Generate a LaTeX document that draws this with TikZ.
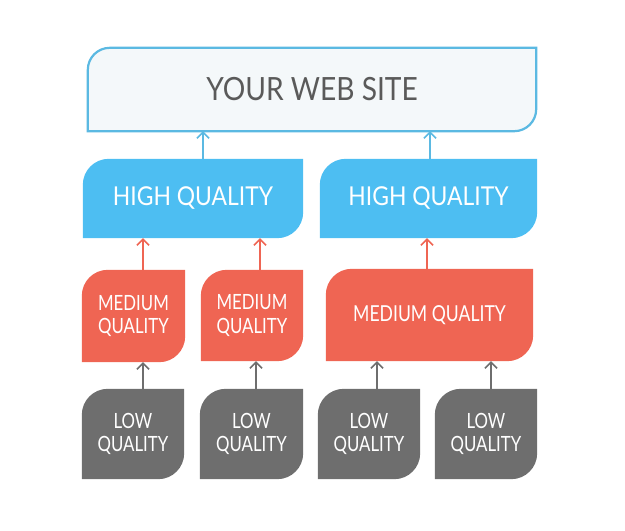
\documentclass[tikz,border=0pt]{standalone}
\usepackage{fontspec}
\setmainfont{Lato}[FakeStretch=0.88]
\newfontfamily\narrowfont{Lato}[FakeStretch=0.8]
\usetikzlibrary{arrows.meta,backgrounds}
\definecolor{siteblue}{HTML}{5BB9E2}
\definecolor{sitefill}{HTML}{F4F8FA}
\definecolor{sitetext}{HTML}{5A5A5A}
\definecolor{highblue}{HTML}{4DBEF2}
\definecolor{medred}{HTML}{EF6553}
\definecolor{lowgray}{HTML}{6E6E6E}
\newcommand{\leafpath}[2]{(#1.south west) -- ([yshift=-#2]#1.north west) arc[start angle=180,end angle=270,radius=#2] -- (#1.north east) -- ([yshift=#2]#1.south east) arc[start angle=0,end angle=90,radius=#2] -- cycle}

\begin{document}
\begin{tikzpicture}[x=1pt,y=-1pt,>={Straight Barb[length=6pt,width=12pt]},
  box/.style={inner sep=0pt,align=center,text=white,font=\narrowfont\fontsize{21}{23.5}\selectfont}]
\useasboundingbox (0,0) rectangle (625,531);

\node[box,minimum width=448,minimum height=83,text=sitetext,font=\fontsize{32}{36}\selectfont] (site) at (312,89.5) {\raisebox{-4pt}{YOUR WEB SITE}};
\node[box,minimum width=220,minimum height=79,font=\fontsize{26}{30}\selectfont] (high1) at (193,198.5) {HIGH QUALITY};
\node[box,minimum width=217,minimum height=79,font=\fontsize{26}{30}\selectfont] (high2) at (428.5,198.5) {HIGH QUALITY};
\node[box,minimum width=103,minimum height=92] (med1) at (133.5,316) {MEDIUM\\QUALITY};
\node[box,minimum width=102,minimum height=91] (med2) at (252,315.5) {MEDIUM\\QUALITY};
\node[box,minimum width=207,minimum height=92,font=\narrowfont\fontsize{22}{24}\selectfont] (med3) at (429.5,315) {MEDIUM QUALITY};
\node[box,minimum width=102,minimum height=90] (low1) at (133,434) {LOW\\QUALITY};
\node[box,minimum width=103,minimum height=90] (low2) at (251.5,434) {LOW\\QUALITY};
\node[box,minimum width=102,minimum height=90] (low3) at (369,434) {LOW\\QUALITY};
\node[box,minimum width=102,minimum height=90] (low4) at (486,434) {LOW\\QUALITY};

\begin{scope}[on background layer]
\filldraw[fill=sitefill,draw=siteblue,line width=2.2pt] \leafpath{site}{22};
\fill[highblue] \leafpath{high1}{26};
\fill[highblue] \leafpath{high2}{26};
\foreach \n in {med1,med2,med3} \fill[medred] \leafpath{\n}{26};
\foreach \n in {low1,low2,low3,low4} \fill[lowgray] \leafpath{\n}{26};
\end{scope}

\draw[->,siteblue,line width=1.6pt] ([xshift=10]high1.north) -- ([xshift=10]high1.north |- site.south);
\draw[->,siteblue,line width=1.6pt] ([xshift=1.5]high2.north) -- ([xshift=1.5]high2.north |- site.south);
\draw[->,medred,line width=1.6pt] ([xshift=9.5]med1.north) -- ([xshift=9.5]med1.north |- high1.south);
\draw[->,medred,line width=1.6pt] ([xshift=8]med2.north) -- ([xshift=8]med2.north |- high1.south);
\draw[->,medred,line width=1.6pt] ([xshift=-2.5]med3.north) -- ([xshift=-2.5]med3.north |- high2.south);
\draw[->,lowgray,line width=1.6pt] ([xshift=10]low1.north) -- ([xshift=10]low1.north |- med1.south);
\draw[->,lowgray,line width=1.6pt] ([xshift=4.5]low2.north) -- ([xshift=4.5]low2.north |- med2.south);
\draw[->,lowgray,line width=1.6pt] ([xshift=8]low3.north) -- ([xshift=8]low3.north |- med3.south);
\draw[->,lowgray,line width=1.6pt] ([xshift=5]low4.north) -- ([xshift=5]low4.north |- med3.south);
\end{tikzpicture}
\end{document}
